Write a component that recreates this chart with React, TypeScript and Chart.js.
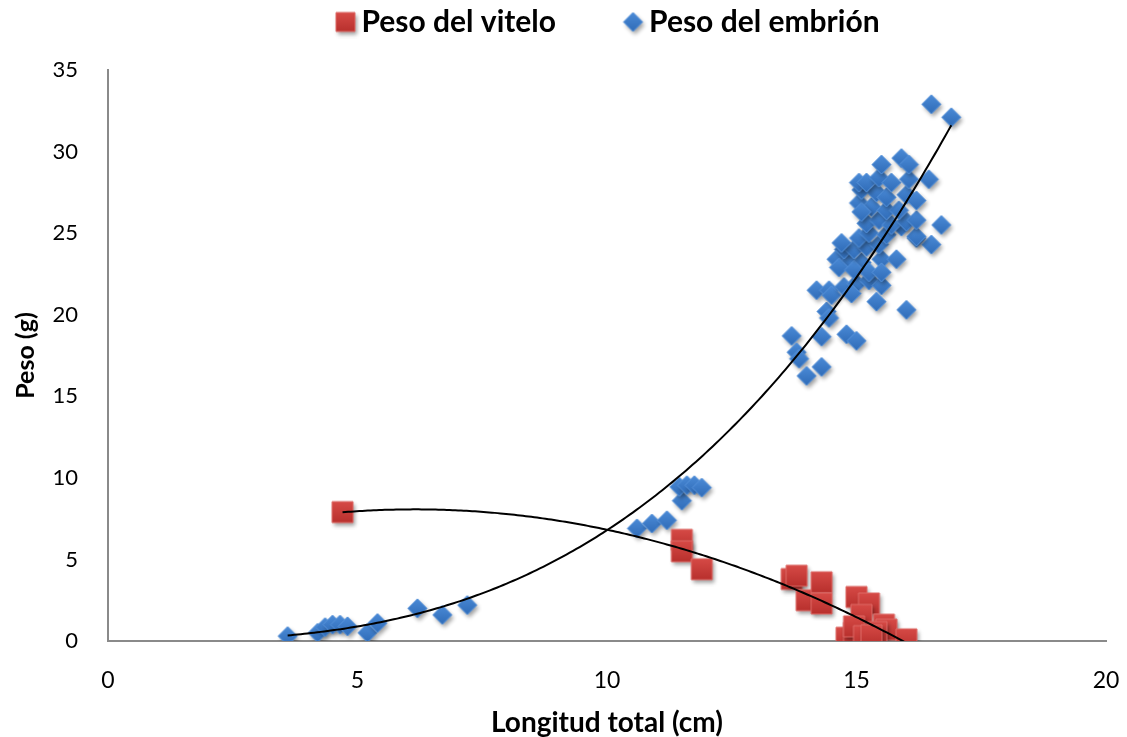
import React, { useEffect, useRef } from 'react';
import { Chart, registerables } from 'chart.js';

Chart.register(...registerables);

// ---- Data ----
const SERIES_LABELS = ['Peso del vitelo', 'Peso del embrión'];
const X_TITLE = 'Longitud total (cm)';
const Y_TITLE = 'Peso (g)';

const xTickValues = [0, 5, 10, 15, 20];
const yTickValues = [0, 5, 10, 15, 20, 25, 30, 35];

// Peso del vitelo (yolk weight)
const viteloX = [4.7, 11.5, 11.5, 11.9, 13.7, 13.8, 14.0, 14.3, 14.3, 15.0, 15.25, 15.1, 15.55, 15.6, 15.4, 14.8, 14.95, 14.95, 15.15, 15.3, 16.0];
const viteloY = [7.9, 6.2, 5.5, 4.4, 3.8, 4.0, 2.5, 3.6, 2.3, 2.7, 2.3, 1.6, 1.0, 0.7, 0.55, 0.2, 0.5, 0.9, 0.3, 0.35, 0.1];

// Peso del embrión (embryo weight)
const embrionX = [
  3.6, 4.2, 4.35, 4.5, 4.65, 4.8, 5.2, 5.4, 6.2, 6.7, 7.2,
  10.6, 10.9, 11.2, 11.5, 11.45, 11.6, 11.75, 11.9,
  13.7, 13.8, 13.85, 14.0, 14.3, 14.3, 14.2, 14.45, 14.4, 14.45, 14.5, 14.75, 14.8, 15.0, 15.0, 15.25, 15.5, 15.4, 16.0, 14.9,
  14.6, 14.85, 15.1, 15.5, 15.8, 14.65, 14.95, 15.25, 15.5,
  14.75, 14.95, 15.2, 15.45, 16.2, 16.5, 14.7, 15.05, 15.25, 15.6, 15.9, 16.2,
  15.2, 15.45, 15.7, 16.0, 16.2, 16.7,
  15.05, 15.3, 15.6, 15.85, 15.1,
  15.1, 15.4, 15.6, 16.0, 16.2,
  15.05, 15.2, 15.45, 15.7, 16.05, 16.45,
  15.5, 15.9, 16.05, 16.5, 16.9,
];
const embrionY = [
  0.3, 0.5, 0.85, 1.0, 1.0, 0.9, 0.5, 1.1, 2.0, 1.6, 2.2,
  6.9, 7.2, 7.4, 8.6, 9.45, 9.55, 9.55, 9.4,
  18.7, 17.7, 17.3, 16.25, 16.8, 18.65, 21.5, 21.5, 20.2, 19.8, 21.2, 21.7, 18.8, 18.4, 21.9, 22.1, 21.8, 20.8, 20.3, 21.3,
  23.4, 23.2, 23.2, 23.4, 23.4, 22.9, 22.75, 22.6, 22.6,
  24.0, 24.0, 24.15, 24.3, 24.7, 24.3, 24.4, 24.7, 25.0, 24.9, 25.4, 24.8,
  25.6, 25.8, 25.5, 25.7, 25.8, 25.5,
  26.85, 26.6, 26.4, 26.4, 26.3,
  27.65, 27.5, 27.2, 27.35, 27.0,
  28.1, 28.1, 28.4, 28.1, 28.3, 28.3,
  29.2, 29.6, 29.2, 32.9, 32.1,
];

// ---- Trendline fits (least squares, as the spreadsheet does) ----
function fitQuadratic(xs: number[], ys: number[]) {
  const s = [0, 0, 0, 0, 0];
  const t = [0, 0, 0];
  for (let i = 0; i < xs.length; i++) {
    let p = 1;
    for (let k = 0; k < 5; k++) { s[k] += p; p *= xs[i]; }
    t[0] += ys[i]; t[1] += ys[i] * xs[i]; t[2] += ys[i] * xs[i] * xs[i];
  }
  const M = [
    [s[0], s[1], s[2], t[0]],
    [s[1], s[2], s[3], t[1]],
    [s[2], s[3], s[4], t[2]],
  ];
  for (let c = 0; c < 3; c++) {
    for (let r = c + 1; r < 3; r++) {
      const f = M[r][c] / M[c][c];
      for (let k = c; k < 4; k++) M[r][k] -= f * M[c][k];
    }
  }
  const coef = [0, 0, 0];
  for (let r = 2; r >= 0; r--) {
    let v = M[r][3];
    for (let k = r + 1; k < 3; k++) v -= M[r][k] * coef[k];
    coef[r] = v / M[r][r];
  }
  return (x: number) => coef[0] + coef[1] * x + coef[2] * x * x;
}

function fitPower(xs: number[], ys: number[]) {
  const n = xs.length;
  let sx = 0, sy = 0, sxx = 0, sxy = 0;
  for (let i = 0; i < n; i++) {
    const lx = Math.log(xs[i]);
    const ly = Math.log(ys[i]);
    sx += lx; sy += ly; sxx += lx * lx; sxy += lx * ly;
  }
  const b = (n * sxy - sx * sy) / (n * sxx - sx * sx);
  const a = Math.exp((sy - b * sx) / n);
  return (x: number) => a * Math.pow(x, b);
}

function curvePoints(f: (x: number) => number, xs: number[]) {
  const lo = Math.min(...xs);
  const hi = Math.max(...xs);
  const pts: { x: number; y: number }[] = [];
  const steps = 200;
  for (let i = 0; i <= steps; i++) {
    const x = lo + ((hi - lo) * i) / steps;
    pts.push({ x, y: f(x) });
  }
  return pts;
}

function makeMarker(shape: 'square' | 'diamond', half: number, top: string, bottom: string, edge: string) {
  const size = Math.ceil(half * 2 + 14);
  const c = document.createElement('canvas');
  c.width = size;
  c.height = size;
  const ctx = c.getContext('2d')!;
  const cx = size / 2;
  const cy = size / 2;
  const path = () => {
    ctx.beginPath();
    if (shape === 'square') {
      ctx.rect(cx - half, cy - half, half * 2, half * 2);
    } else {
      ctx.moveTo(cx, cy - half);
      ctx.lineTo(cx + half, cy);
      ctx.lineTo(cx, cy + half);
      ctx.lineTo(cx - half, cy);
      ctx.closePath();
    }
  };
  ctx.save();
  ctx.shadowColor = 'rgba(0,0,0,0.38)';
  ctx.shadowBlur = 4;
  ctx.shadowOffsetX = 2;
  ctx.shadowOffsetY = 3;
  path();
  ctx.fillStyle = bottom;
  ctx.fill();
  ctx.restore();
  const g = ctx.createLinearGradient(0, cy - half, 0, cy + half);
  g.addColorStop(0, top);
  g.addColorStop(1, bottom);
  path();
  ctx.fillStyle = g;
  ctx.fill();
  ctx.lineWidth = 1;
  ctx.strokeStyle = edge;
  ctx.stroke();
  return c;
}

const FONT = 'Lato, "Open Sans", sans-serif';
const LEGEND_PAD = 76;
const LEGEND_FONT = 30;
const PLOT_TOP = 70;
const LEGEND_CENTER_Y = 22;

export default function App() {
  const ref = useRef<HTMLCanvasElement | null>(null);

  useEffect(() => {
    if (!ref.current) return;
    const redMarker = makeMarker('square', 10.5, '#d64a46', '#b8302d', '#de6a66');
    const blueMarker = makeMarker('diamond', 9.5, '#4b8ad6', '#2f6cb8', '#5a95dc');
    const redLegend = makeMarker('square', 9.5, '#d64a46', '#b8302d', '#de6a66');
    const blueLegend = makeMarker('diamond', 9.5, '#4b8ad6', '#2f6cb8', '#5a95dc');

    const viteloPts = viteloX.map((x, i) => ({ x, y: viteloY[i] }));
    const embrionPts = embrionX.map((x, i) => ({ x, y: embrionY[i] }));
    const viteloTrend = curvePoints(fitQuadratic(viteloX, viteloY), viteloX);
    const embrionTrend = curvePoints(fitPower(embrionX, embrionY), embrionX);

    const legendTweak = {
      id: 'legendTweak',
      afterInit(chart: any) {
        const lg = chart.legend;
        if (!lg) return;
        const orig = lg.fit.bind(lg);
        lg.fit = function () {
          orig();
          this.height = PLOT_TOP;
        };
      },
      afterLayout(chart: any) {
        const lg = chart.legend;
        if (!lg) return;
        lg.top = LEGEND_CENTER_Y - LEGEND_FONT / 2 - LEGEND_PAD;
        lg.bottom = PLOT_TOP;
        lg.height = lg.bottom - lg.top;
        lg.left += 5;
        lg.right += 5;
      },
    };

    const chart = new Chart(ref.current, {
      type: 'scatter',
      data: {
        datasets: [
          {
            label: 'trend-vitelo',
            data: viteloTrend,
            showLine: true,
            borderColor: '#000',
            borderWidth: 2,
            pointRadius: 0,
            order: 0,
          },
          {
            label: 'trend-embrion',
            data: embrionTrend,
            showLine: true,
            borderColor: '#000',
            borderWidth: 2,
            pointRadius: 0,
            order: 0,
          },
          {
            label: SERIES_LABELS[0],
            data: viteloPts,
            pointStyle: redMarker as any,
            pointRadius: 10,
            order: 1,
          },
          {
            label: SERIES_LABELS[1],
            data: embrionPts,
            pointStyle: blueMarker as any,
            pointRadius: 9,
            order: 2,
          },
        ],
      },
      options: {
        responsive: false,
        animation: false,
        events: [],
        layout: { padding: { left: 0, right: 21, top: 0, bottom: 0 } },
        plugins: {
          tooltip: { enabled: false },
          legend: {
            position: 'top',
            fullSize: false,
            labels: {
              usePointStyle: true,
              boxWidth: 2,
              boxHeight: 18,
              padding: LEGEND_PAD,
              color: '#000',
              font: { family: FONT, size: LEGEND_FONT, weight: 'bold' },
              generateLabels: () => [
                { text: SERIES_LABELS[0], pointStyle: redLegend as any, fillStyle: '#c0392b', strokeStyle: '#c0392b', lineWidth: 0, hidden: false, datasetIndex: 2 },
                { text: SERIES_LABELS[1], pointStyle: blueLegend as any, fillStyle: '#3a78c3', strokeStyle: '#3a78c3', lineWidth: 0, hidden: false, datasetIndex: 3 },
              ],
            },
          },
        },
        scales: {
          x: {
            type: 'linear',
            min: 0,
            max: 20,
            afterBuildTicks: (s: any) => { s.ticks = xTickValues.map((v) => ({ value: v })); },
            ticks: { color: '#000', font: { family: FONT, size: 23 }, padding: 18, maxRotation: 0 },
            grid: { display: false },
            border: { display: true, color: '#8a8a8a', width: 2 },
            title: {
              display: true,
              text: X_TITLE,
              color: '#000',
              font: { family: FONT, size: 28, weight: 'bold', lineHeight: 1 },
              padding: { top: 0, bottom: 0 },
            },
            afterFit: (s: any) => { s.height = 96; s.paddingLeft = 0; s.paddingRight = 0; },
          },
          y: {
            type: 'linear',
            min: 0,
            max: 35,
            afterBuildTicks: (s: any) => { s.ticks = yTickValues.map((v) => ({ value: v })); },
            ticks: { color: '#000', font: { family: FONT, size: 22 }, padding: 22 },
            grid: { display: false },
            border: { display: true, color: '#8a8a8a', width: 2 },
            title: {
              display: true,
              text: Y_TITLE,
              color: '#000',
              font: { family: FONT, size: 25, weight: 'bold' },
              padding: { top: 11, bottom: 0 },
            },
            afterFit: (s: any) => { s.width = 108; s.paddingTop = 0; s.paddingBottom = 0; },
          },
        },
      },
      plugins: [legendTweak],
    } as any);

    return () => chart.destroy();
  }, []);

  return (
    <div style={{ position: 'fixed', left: 0, top: 0, width: 1127, height: 737, background: '#fff' }}>
      <canvas ref={ref} width={1127} height={737} style={{ display: 'block', width: 1127, height: 737 }} />
    </div>
  );
}
